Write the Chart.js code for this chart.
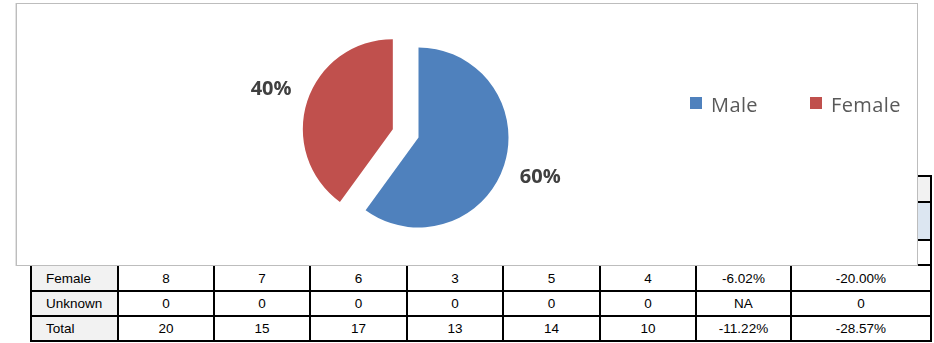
<!DOCTYPE html>
<html>
<head>
<meta charset="utf-8">
<script src="https://cdn.jsdelivr.net/npm/chart.js@4.4.1/dist/chart.umd.min.js"></script>
<style>
  html, body { margin: 0; padding: 0; background: #fff; }
  body { width: 934px; height: 343px; position: relative; overflow: hidden; }
  #table {
    position: absolute; left: 30px; top: 175px;
    display: grid;
    grid-template-columns: 85px 94px 94px 95px 94px 95px 94px 93px 138px;
    grid-template-rows: 24px 36px 23px 24px 23px 23px;
    gap: 2px; padding: 2px; background: #000;
    font-family: "Liberation Sans", Arial, sans-serif; font-size: 13.5px; color: #000;
  }
  #table div { background: #fff; display: flex; align-items: center; justify-content: center; }
  #table div.head { background: #f2f2f2; }
  #table div.male { background: #dce6f1; }
  #table div.first { background: #f2f2f2; justify-content: flex-start; padding-left: 14px; }
  #box {
    position: absolute; left: 16px; top: 3px; width: 902px; height: 263px;
    box-sizing: border-box; border: 1px solid #bdbdbd; background: #fff;
    box-shadow: -1px 0 0 #e3e3e3;
  }
  #box canvas { position: absolute; left: 0; top: 0; }
</style>
</head>
<body>
<div id="table"></div>
<div id="box"><canvas id="pie" width="900" height="261"></canvas></div>
<script>
// pie data
const categories = ["Male", "Female"];
const shares = [60, 40];
const sliceColors = ["#4F81BD", "#C0504D"];
// how far each slice is pulled out of the pie, px
const explode = [0, 27];

// table rows visible under the chart
const tableRows = [
  ["Female", "8", "7", "6", "3", "5", "4", "-6.02%", "-20.00%"],
  ["Unknown", "0", "0", "0", "0", "0", "0", "NA", "0"],
  ["Total", "20", "15", "17", "13", "14", "10", "-11.22%", "-28.57%"],
];
// rows hidden behind the chart (only their fills peek out)
const hiddenRowKinds = ["head", "male", ""];

const table = document.getElementById("table");
hiddenRowKinds.forEach((kind) => {
  for (let c = 0; c < 9; c++) {
    const cell = document.createElement("div");
    cell.className = c === 0 ? "first" : kind;
    table.appendChild(cell);
  }
});
tableRows.forEach((row) => {
  row.forEach((txt, c) => {
    const cell = document.createElement("div");
    if (c === 0) cell.className = "first";
    cell.textContent = txt;
    table.appendChild(cell);
  });
});

const pieExtras = {
  id: "pieExtras",
  // chart.js "offset" also grows the slice radius, so pull slices out by hand
  afterDatasetUpdate(chart, args) {
    args.meta.data.forEach((arc, i) => {
      const d = explode[i] || 0;
      if (!d) return;
      const mid = (arc.startAngle + arc.endAngle) / 2;
      arc.x += Math.cos(mid) * d;
      arc.y += Math.sin(mid) * d;
    });
  },
  afterDraw(chart) {
    const ctx = chart.ctx;
    const meta = chart.getDatasetMeta(0);
    const data = chart.data.datasets[0].data;
    const total = data.reduce((a, b) => a + b, 0);

    // percentage labels outside each slice
    ctx.save();
    ctx.font = "bold 20px 'Open Sans', sans-serif";
    ctx.fillStyle = "#404040";
    ctx.textAlign = "center";
    ctx.textBaseline = "middle";
    meta.data.forEach((arc, i) => {
      const mid = (arc.startAngle + arc.endAngle) / 2;
      const dist = arc.outerRadius + 38;
      const x = arc.x + Math.cos(mid) * dist;
      const y = arc.y + Math.sin(mid) * dist;
      ctx.fillText(Math.round((data[i] / total) * 100) + "%", x, y);
    });
    ctx.restore();

    // horizontal legend on the right
    ctx.save();
    ctx.font = "20px 'Open Sans', sans-serif";
    ctx.textBaseline = "alphabetic";
    ctx.textAlign = "left";
    if ("letterSpacing" in ctx) ctx.letterSpacing = "0.4px";
    const legendX = [673, 793];
    chart.data.labels.forEach((label, i) => {
      ctx.fillStyle = sliceColors[i];
      ctx.fillRect(legendX[i], 93, 12, 12);
      ctx.fillStyle = "#595959";
      ctx.fillText(label, legendX[i] + 21, 108);
    });
    ctx.restore();
  },
};

new Chart(document.getElementById("pie").getContext("2d"), {
  type: "pie",
  data: {
    labels: categories,
    datasets: [
      {
        data: shares,
        backgroundColor: sliceColors,
        borderWidth: 0,
      },
    ],
  },
  options: {
    responsive: false,
    animation: false,
    radius: 90,
    layout: { padding: { left: 0, right: 97, top: 6, bottom: 0 } },
    plugins: {
      legend: { display: false },
      tooltip: { enabled: false },
    },
  },
  plugins: [pieExtras],
});
</script>
</body>
</html>
